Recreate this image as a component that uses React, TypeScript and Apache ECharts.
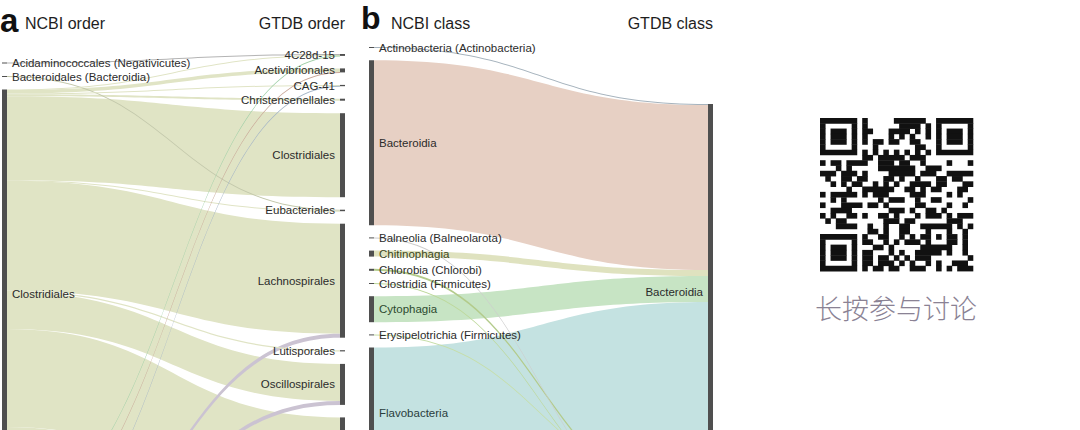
import React, { useEffect, useRef } from "react";
import * as echarts from "echarts";

// ---------------- DATA ----------------
// Panel a: NCBI order -> GTDB order (genomes)
const ncbiOrders = [
  "Acidaminococcales (Negativicutes)",
  "Bacteroidales (Bacteroidia)",
  "Clostridiales",
  "Halanaerobiales",
  "Lactobacillales (Bacilli)",
  "Natranaerobiales",
  "Thermoanaerobacterales",
];
const gtdbOrders = [
  "4C28d-15",
  "Acetivibrionales",
  "CAG-41",
  "Christensenellales",
  "Clostridiales",
  "Eubacteriales",
  "Lachnospirales",
  "Lutisporales",
  "Oscillospirales",
  "Peptostreptococcales",
  "Tissierellales",
  "Halanaerobiales",
  "Lactobacillales",
  "Natranaerobiales",
  "Thermoanaerobacterales",
];
const orderFlows: [string, string, number][] = [
  ["Acidaminococcales (Negativicutes)", "4C28d-15", 10],
  ["Bacteroidales (Bacteroidia)", "Eubacteriales", 10],
  ["Clostridiales", "4C28d-15", 5],
  ["Clostridiales", "Acetivibrionales", 35],
  ["Clostridiales", "CAG-41", 8],
  ["Clostridiales", "Christensenellales", 20],
  ["Clostridiales", "Clostridiales", 840],
  ["Clostridiales", "Eubacteriales", 5],
  ["Clostridiales", "Lachnospirales", 1100],
  ["Clostridiales", "Lutisporales", 12],
  ["Clostridiales", "Oscillospirales", 370],
  ["Clostridiales", "Peptostreptococcales", 980],
  ["Clostridiales", "Tissierellales", 710],
  ["Halanaerobiales", "4C28d-15", 4],
  ["Halanaerobiales", "Halanaerobiales", 60],
  ["Lactobacillales (Bacilli)", "Acetivibrionales", 5],
  ["Lactobacillales (Bacilli)", "Lactobacillales", 150],
  ["Natranaerobiales", "CAG-41", 5],
  ["Natranaerobiales", "Natranaerobiales", 20],
  ["Thermoanaerobacterales", "Lachnospirales", 40],
  ["Thermoanaerobacterales", "Oscillospirales", 40],
  ["Thermoanaerobacterales", "Thermoanaerobacterales", 500],
];

// Panel b: NCBI class -> GTDB class (genomes)
const ncbiClasses = [
  "Actinobacteria (Actinobacteria)",
  "Bacteroidia",
  "Balneolia (Balneolarota)",
  "Chitinophagia",
  "Chlorobia (Chlorobi)",
  "Clostridia (Firmicutes)",
  "Cytophagia",
  "Erysipelotrichia (Firmicutes)",
  "Flavobacteria",
  "Sphingobacteriia",
];
const gtdbClasses = ["Bacteroidia", "Bacilli", "Chlorobia", "Clostridia", "Rhodothermia"];
const classFlows: [string, string, number][] = [
  ["Actinobacteria (Actinobacteria)", "Bacteroidia", 10],
  ["Bacteroidia", "Bacteroidia", 1650],
  ["Balneolia (Balneolarota)", "Rhodothermia", 10],
  ["Chitinophagia", "Bacteroidia", 60],
  ["Chlorobia (Chlorobi)", "Chlorobia", 20],
  ["Clostridia (Firmicutes)", "Clostridia", 10],
  ["Cytophagia", "Bacteroidia", 260],
  ["Erysipelotrichia (Firmicutes)", "Bacilli", 10],
  ["Flavobacteria", "Bacteroidia", 1300],
  ["Sphingobacteriia", "Bacteroidia", 480],
];

const titleTexts = {
  a: "a",
  aLeft: "NCBI order",
  aRight: "GTDB order",
  b: "b",
  bLeft: "NCBI class",
  bRight: "GTDB class",
  cta: "长按参与讨论",
};

// ---------------- STYLES ----------------
const FONT = "'Liberation Sans', Arial, Helvetica, sans-serif";
const PX_PER_GENOME = 0.1;

const orderColors: Record<string, string> = {
  "Acidaminococcales (Negativicutes)": "#b4b4b4",
  "Bacteroidales (Bacteroidia)": "#c3c8ab",
  Clostridiales: "#e0e4c5",
  Halanaerobiales: "#9fcfa7",
  "Lactobacillales (Bacilli)": "#c8a697",
  Natranaerobiales: "#a4b5c6",
  Thermoanaerobacterales: "#cbc3d2",
};
const classColors: Record<string, string> = {
  "Actinobacteria (Actinobacteria)": "#a6b3bd",
  Bacteroidia: "#e7d0c4",
  "Balneolia (Balneolarota)": "#cdcdcd",
  Chitinophagia: "#dfe2bf",
  "Chlorobia (Chlorobi)": "#b3cb8b",
  "Clostridia (Firmicutes)": "#bdd89a",
  Cytophagia: "#c7e4c4",
  "Erysipelotrichia (Firmicutes)": "#c6dea8",
  Flavobacteria: "#c4e2e1",
  Sphingobacteriia: "#d4cde0",
};
const labelTints: Record<string, string> = {
  Chitinophagia: "#3c4621",
  Cytophagia: "#2d4a2f",
  Flavobacteria: "#2a3d3d",
};

interface PanelLayout {
  left: number;
  width: number;
  nodeWidth: number;
  gap: number;
  leftFirstTop: number;
  rightFirstTop: number;
}

const stripId = (s: string) => String(s).replace(/^[LR]:/, "");

function buildSankey(
  leftNames: string[],
  rightNames: string[],
  flows: [string, string, number][],
  colors: Record<string, string>,
  lay: PanelLayout
) {
  const outSum: Record<string, number> = {};
  const inSum: Record<string, number> = {};
  flows.forEach(([s, t, v]) => {
    outSum[s] = (outSum[s] || 0) + v;
    inSum[t] = (inSum[t] || 0) + v;
  });
  const top = Math.min(lay.leftFirstTop, lay.rightFirstTop) - lay.gap;
  const leftPad = (lay.leftFirstTop - lay.gap - top) / PX_PER_GENOME;
  const rightPad = (lay.rightFirstTop - lay.gap - top) / PX_PER_GENOME;
  type ColNode = { id: string; name: string; value: number; spacer: boolean };
  const leftCol: ColNode[] = [
    { id: "L:__pad", name: " ", value: leftPad, spacer: true },
    ...leftNames.map((n) => ({ id: "L:" + n, name: n, value: outSum[n] || 0, spacer: false })),
  ];
  const rightCol: ColNode[] = [
    { id: "R:__pad", name: "  ", value: rightPad, spacer: true },
    ...rightNames.map((n) => ({ id: "R:" + n, name: n, value: inSum[n] || 0, spacer: false })),
  ];
  const colHeight = (col: ColNode[]) =>
    col.reduce((a, n) => a + n.value * PX_PER_GENOME, 0) + (col.length - 1) * lay.gap;
  const height = Math.max(colHeight(leftCol), colHeight(rightCol));

  const nodes: any[] = [];
  [leftCol, rightCol].forEach((col, depth) => {
    let y = top;
    col.forEach((n) => {
      const h = n.value * PX_PER_GENOME;
      const cy = y + h / 2;
      y += h + lay.gap;
      const node: any = {
        id: n.id,
        name: n.name,
        depth,
        label: {
          show: !n.spacer && cy < 424,
          position: depth === 0 ? "right" : "left",
          color: labelTints[n.name] || "#2b2b2b",
        },
      };
      if (n.spacer) {
        node.value = n.value;
        node.itemStyle = { color: "rgba(0,0,0,0)" };
        node.silent = true;
      }
      nodes.push(node);
    });
  });

  // wide ribbons first, thin lines drawn on top of them
  const links = flows
    .map(([s, t, v]) => ({
      source: "L:" + s,
      target: "R:" + t,
      value: v,
      lineStyle: { color: colors[s] || "#ccc", opacity: 1 },
    }))
    .sort((a, b) => b.value - a.value);

  return {
    type: "sankey",
    left: lay.left,
    top,
    width: lay.width,
    height,
    nodeWidth: lay.nodeWidth,
    nodeGap: lay.gap,
    layoutIterations: 0,
    nodeAlign: "left",
    draggable: false,
    emphasis: { disabled: true },
    itemStyle: { color: "#4f4f4f", borderWidth: 0 },
    lineStyle: { curveness: 0.5, opacity: 1 },
    label: {
      fontSize: 11.5,
      fontFamily: FONT,
      color: "#2b2b2b",
      distance: 5,
      formatter: (p: any) => stripId(p.name),
    },
    data: nodes,
    links,
  };
}

// QR decoration
const QR_N = 29;
function qrDark(r: number, c: number): boolean {
  const finders = [
    [0, 0],
    [0, QR_N - 7],
    [QR_N - 7, 0],
  ];
  for (const [fr, fc] of finders) {
    const i = r - fr;
    const j = c - fc;
    if (i >= -1 && i <= 7 && j >= -1 && j <= 7) {
      if (i < 0 || i > 6 || j < 0 || j > 6) return false;
      if (i === 0 || i === 6 || j === 0 || j === 6) return true;
      return i >= 2 && i <= 4 && j >= 2 && j <= 4;
    }
  }
  const ai = r - 22;
  const aj = c - 22;
  if (Math.abs(ai) <= 2 && Math.abs(aj) <= 2) return Math.max(Math.abs(ai), Math.abs(aj)) !== 1;
  if (r === 6) return c % 2 === 0;
  if (c === 6) return r % 2 === 0;
  let h = Math.imul(r + 11, 0x9e3779b1) ^ Math.imul(c + 7, 0x85ebca6b);
  h ^= h >>> 15;
  h = Math.imul(h, 0x2c1b3c6d);
  h ^= h >>> 12;
  h = Math.imul(h, 0x297a2d39);
  h ^= h >>> 15;
  return (h & 7) < 4;
}

function qrGraphic(x0: number, y0: number, size: number) {
  const m = size / QR_N;
  const children: any[] = [];
  for (let r = 0; r < QR_N; r++) {
    let c = 0;
    while (c < QR_N) {
      if (qrDark(r, c)) {
        const s = c;
        while (c < QR_N && qrDark(r, c)) c++;
        children.push({
          type: "rect",
          shape: { x: s * m, y: r * m, width: (c - s) * m + 0.3, height: m + 0.4 },
          style: { fill: "#111111" },
        });
      } else c++;
    }
  }
  return { type: "group", x: x0, y: y0, silent: true, children };
}

function txt(text: string, x: number, y: number, size: number, opts: any = {}) {
  return {
    type: "text",
    x,
    y,
    silent: true,
    style: {
      text,
      fill: opts.fill || "#1e1e1e",
      fontSize: size,
      fontFamily: opts.family || FONT,
      fontWeight: opts.weight || "normal",
      align: opts.align || "left",
      verticalAlign: "middle",
    },
  };
}

export default function App() {
  const ref = useRef<HTMLDivElement>(null);
  useEffect(() => {
    if (!ref.current) return;
    const chart = echarts.init(ref.current, undefined, { renderer: "svg" });
    const panelA = buildSankey(ncbiOrders, gtdbOrders, orderFlows, orderColors, {
      left: 2,
      width: 343,
      nodeWidth: 5,
      gap: 12.5,
      leftFirstTop: 62.5,
      rightFirstTop: 54,
    });
    const panelB = buildSankey(ncbiClasses, gtdbClasses, classFlows, classColors, {
      left: 369,
      width: 344,
      nodeWidth: 5,
      gap: 12.2,
      leftFirstTop: 47,
      rightFirstTop: 104,
    });
    chart.setOption({
      animation: false,
      backgroundColor: "#ffffff",
      series: [panelA, panelB],
      graphic: [
        txt(titleTexts.a, 0, 20, 33, { weight: "bold", fill: "#111" }),
        txt(titleTexts.aLeft, 25, 23, 16),
        txt(titleTexts.aRight, 345, 23, 16, { align: "right" }),
        txt(titleTexts.b, 361, 18, 32, { weight: "bold", fill: "#111" }),
        txt(titleTexts.bLeft, 391, 23, 16),
        txt(titleTexts.bRight, 713, 23, 16, { align: "right" }),
        qrGraphic(820, 118, 153),
        txt(titleTexts.cta, 896, 307, 27, {
          align: "center",
          fill: "#8a8294",
          weight: 300,
          family: "'Noto Sans CJK SC', sans-serif",
        }),
      ],
    });
    return () => chart.dispose();
  }, []);
  return (
    <div
      ref={ref}
      style={{ position: "absolute", left: 0, top: 0, width: 1080, height: 430, background: "#fff" }}
    />
  );
}
